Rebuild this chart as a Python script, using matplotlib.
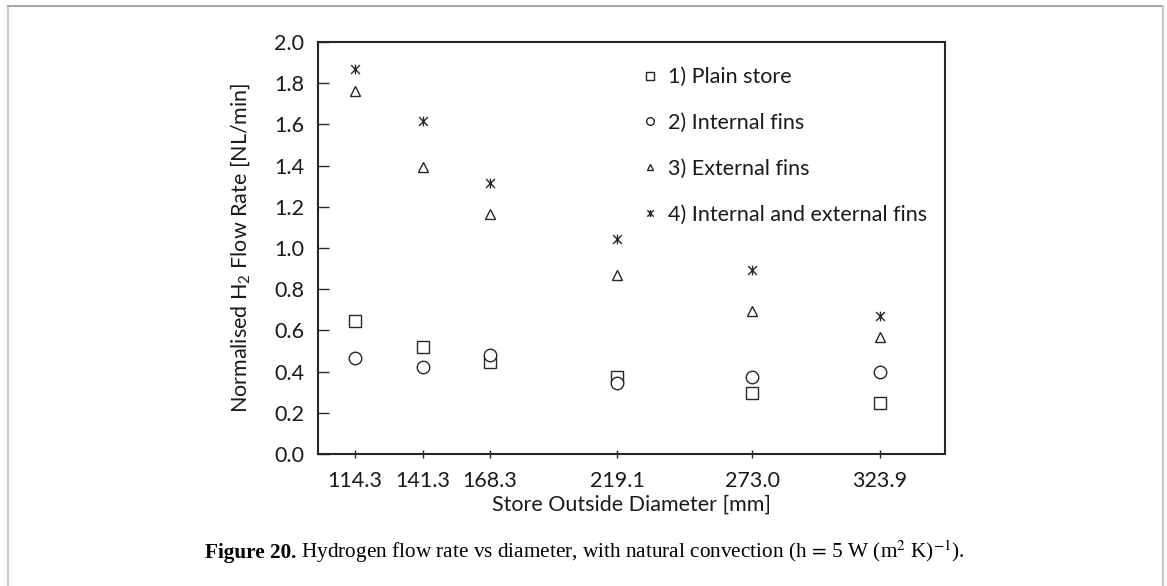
import matplotlib
matplotlib.use("Agg")
import matplotlib.pyplot as plt
from matplotlib.path import Path
from matplotlib.lines import Line2D
import numpy as np

# ---- data ----
diameters = [114.3, 141.3, 168.3, 219.1, 273.0, 323.9]
tick_labels = ["114.3", "141.3", "168.3", "219.1", "273.0", "323.9"]
plain_store = [0.645, 0.518, 0.445, 0.375, 0.295, 0.246]
internal_fins = [0.465, 0.424, 0.481, 0.346, 0.375, 0.400]
external_fins = [1.764, 1.395, 1.165, 0.869, 0.694, 0.569]
int_ext_fins = [1.867, 1.618, 1.317, 1.042, 0.893, 0.671]
series_names = ["1) Plain store", "2) Internal fins", "3) External fins",
                "4) Internal and external fins"]

plt.rcParams['font.family'] = ['Lato', 'DejaVu Sans']
plt.rcParams['mathtext.fontset'] = 'custom'
plt.rcParams['mathtext.rm'] = 'Lato'
plt.rcParams['mathtext.it'] = 'Lato:italic'

W, H = 1167, 586
fig = plt.figure(figsize=(W / 100, H / 100), dpi=100)
ax = fig.add_axes([318 / W, 1 - 454 / H, (945 - 318) / W, (454 - 42) / H])

# star marker: X with vertical bar
star = Path([(-1, -1), (1, 1), (-1, 1), (1, -1), (0, -1.1), (0, 1.1)],
            [Path.MOVETO, Path.LINETO, Path.MOVETO, Path.LINETO, Path.MOVETO, Path.LINETO])

ec = '#262626'
kw = dict(linestyle='none', markerfacecolor='white', markeredgecolor=ec, markeredgewidth=1.0)
ax.plot(diameters, plain_store, marker='s', markersize=8.5, label=series_names[0], **kw)
ax.plot(diameters, internal_fins, marker='o', markersize=9, label=series_names[1], **kw)
ax.plot(diameters, external_fins, marker='^', markersize=7, label=series_names[2], **kw)
ax.plot(diameters, int_ext_fins, marker=star, markersize=7, label=series_names[3], **kw)

ax.set_xlim(99.5, 350)
ax.set_ylim(0, 2.0)
ax.set_xticks(diameters)
ax.set_xticklabels(tick_labels)
ax.set_yticks(np.arange(0, 2.01, 0.2))
ax.set_yticklabels([f"{v:.1f}" for v in np.arange(0, 2.01, 0.2)])

for s in ax.spines.values():
    s.set_color('#262626')
    s.set_linewidth(1.5)

ax.tick_params(axis='y', direction='in', length=8, width=1, colors='#262626',
               labelsize=15.5, labelcolor='#1a1a1a', pad=10)
ax.tick_params(axis='x', direction='inout', length=6, width=1, colors='#262626',
               labelsize=15.5, labelcolor='#1a1a1a', pad=9)

ax.set_xlabel("Store Outside Diameter [mm]", fontsize=15.5, color='#1a1a1a', labelpad=3)
ax.set_ylabel(r"Normalised H$_\mathregular{2}$ Flow Rate [NL/min]", fontsize=15.5,
              color='#1a1a1a', labelpad=16)

leg = ax.legend(loc='upper left', bbox_to_anchor=(0.505, 0.96), frameon=False,
                fontsize=15.5, handlelength=0.6, handletextpad=0.55,
                labelspacing=1.2, borderaxespad=0)
for t in leg.get_texts():
    t.set_color('#1a1a1a')
for h, ms in zip(leg.legend_handles, [6, 5.5, 5, 5]):
    h.set_markersize(ms)

# caption (bold label + regular text on a shared baseline)
cap_y = 1 - 558 / H
cap_rest = r" Hydrogen flow rate vs diameter, with natural convection (h$\,=\,$5 W (m$^2$ K)$^{-1}$)."
t1 = fig.text(205 / W, cap_y, "Figure 20.", fontsize=15.3, fontweight='bold',
              family='Liberation Serif', va='baseline', ha='left')
fig.canvas.draw()
bb = t1.get_window_extent(renderer=fig.canvas.get_renderer())
fig.text(bb.x1 / W, cap_y, cap_rest, fontsize=15.3, family='Liberation Serif',
         math_fontfamily='stix', va='baseline', ha='left')

# outer frame (left, top, right)
for (xs, ys, c) in [([8, 8], [586, 6], '#c8c8c8'), ([8, 1163], [6, 6], '#a8a8a8'),
                    ([1163, 1163], [6, 586], '#c8c8c8')]:
    fig.add_artist(Line2D([x / W for x in xs], [1 - y / H for y in ys], color=c, lw=1.5,
                          transform=fig.transFigure))

fig.savefig("out.png", dpi=100, facecolor='white')
